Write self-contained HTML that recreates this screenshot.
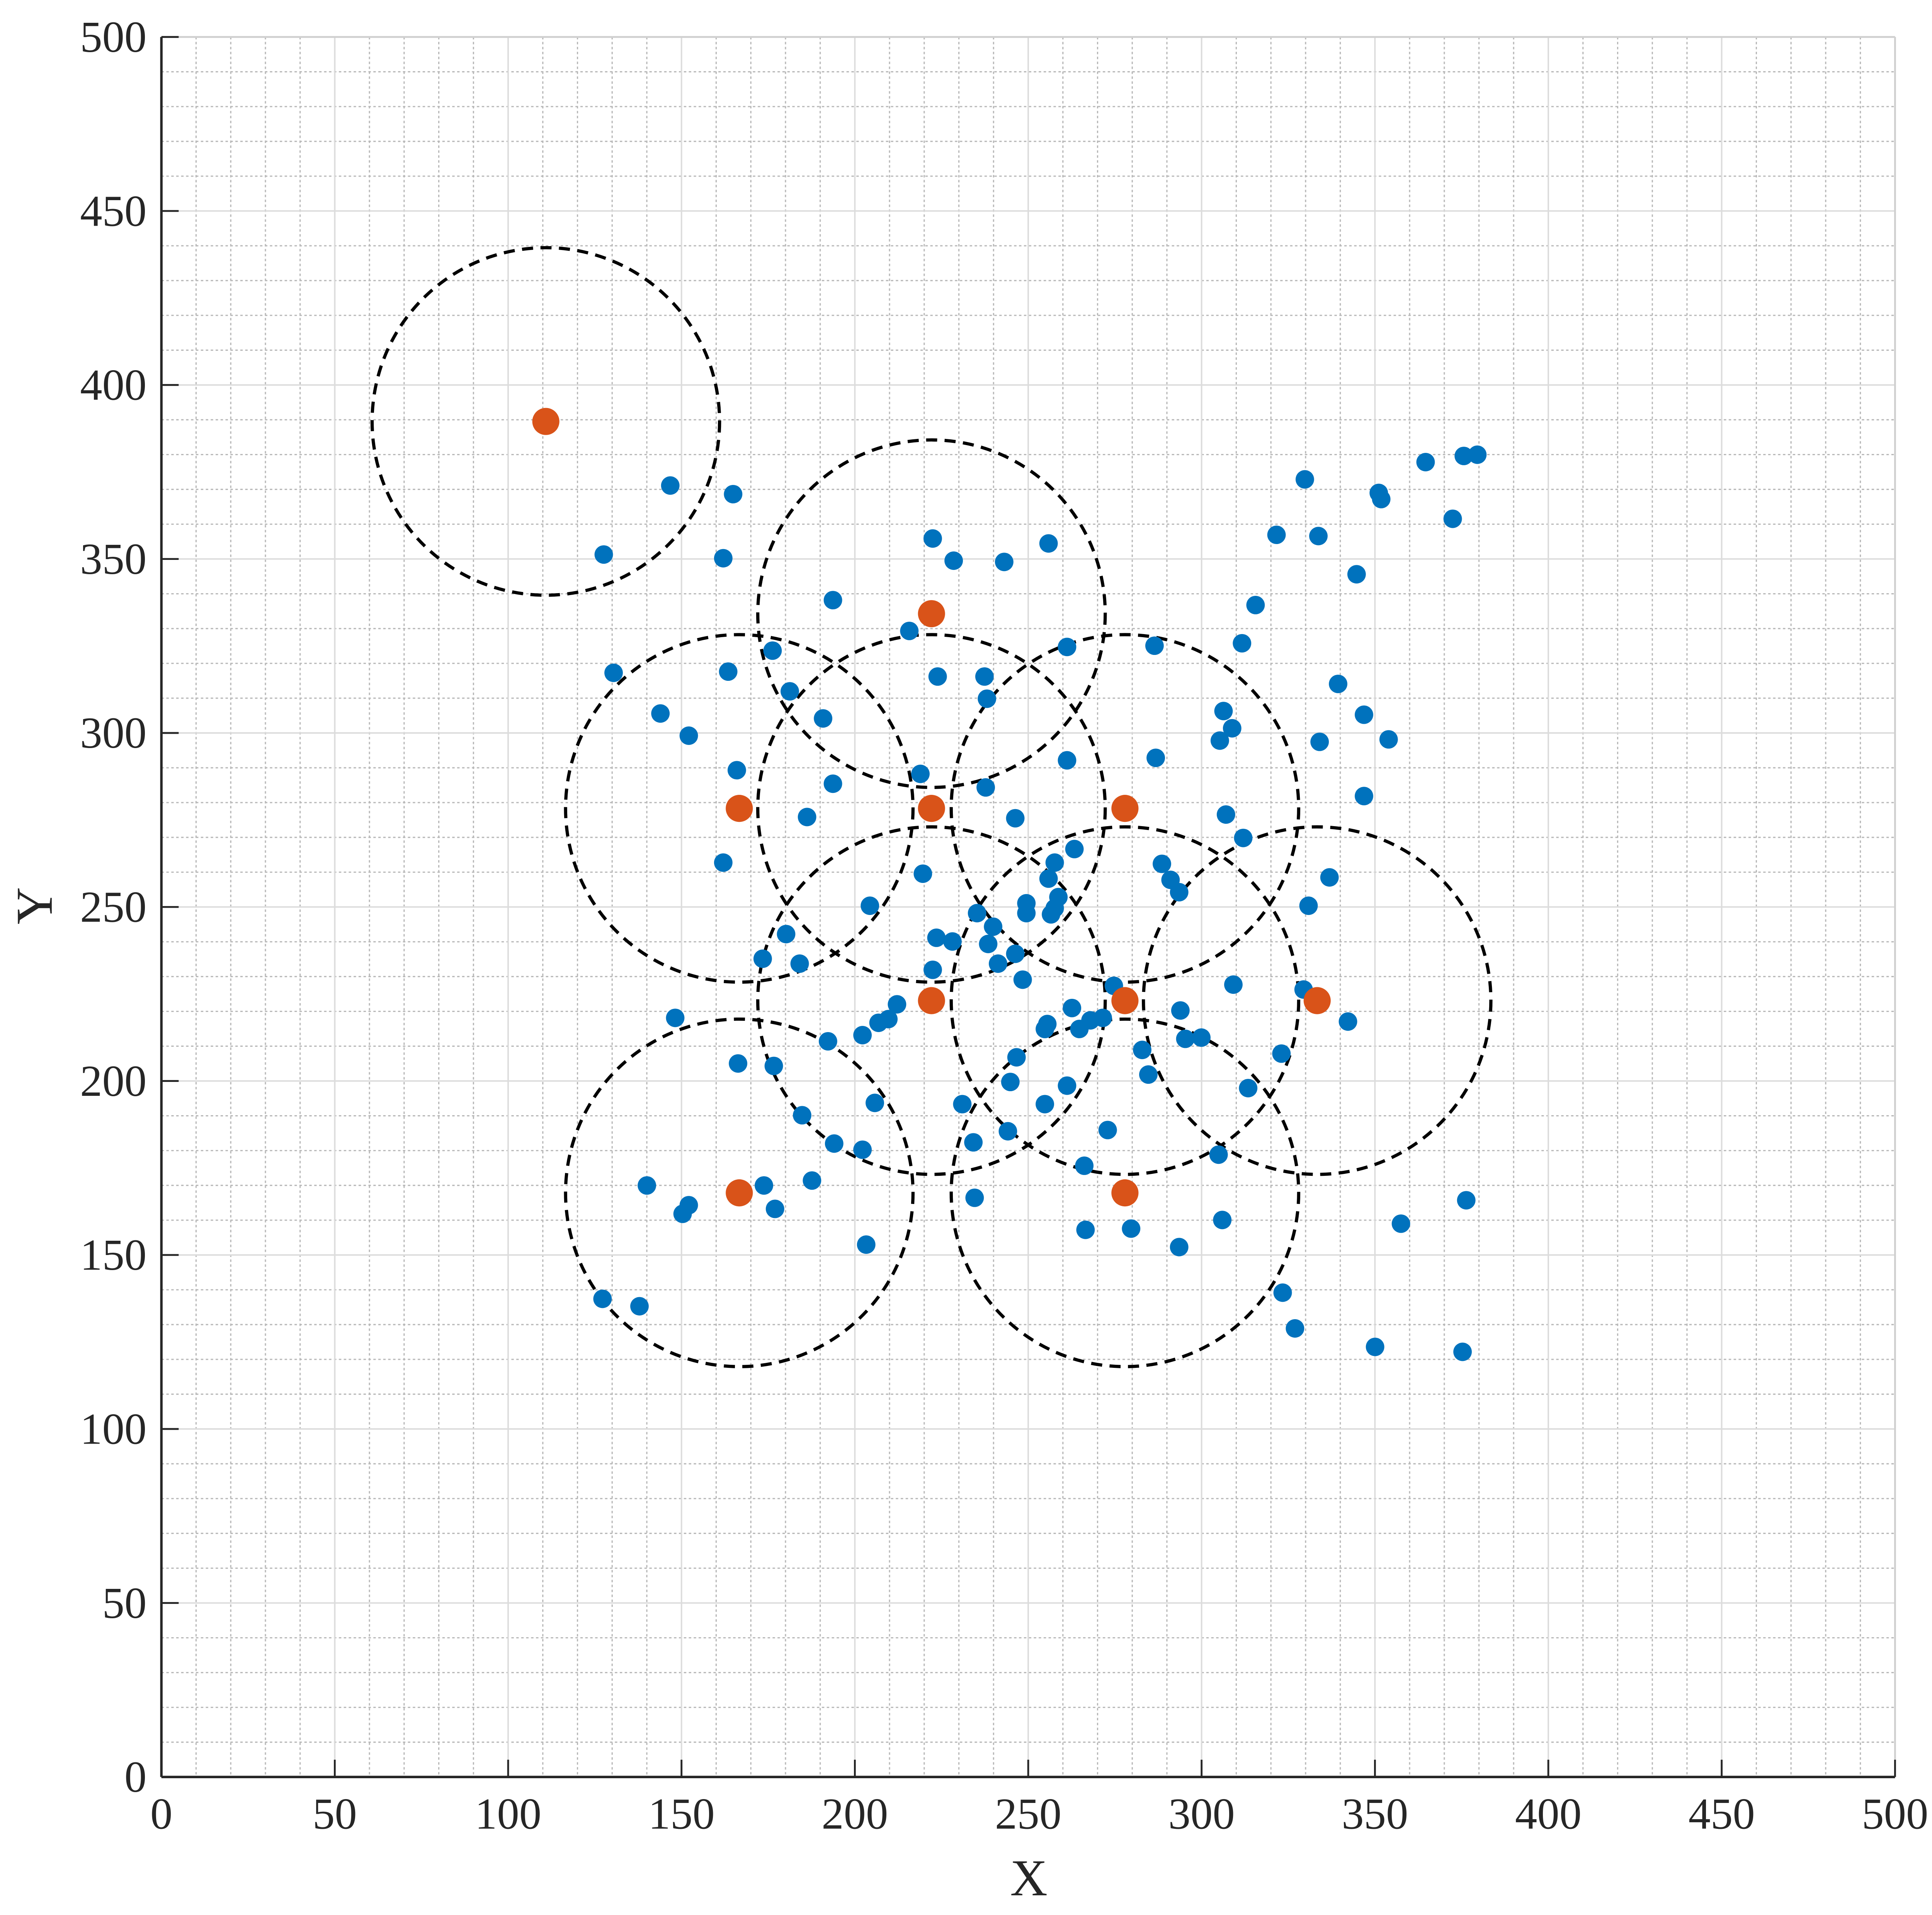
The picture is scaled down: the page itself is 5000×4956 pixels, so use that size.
<!DOCTYPE html>
<html><head><meta charset="utf-8"><style>
html,body{margin:0;padding:0;background:#fff;}
svg{display:block;}
</style></head><body>
<svg width="5000" height="4956" viewBox="0 0 1568 1554" preserveAspectRatio="none" xmlns="http://www.w3.org/2000/svg">
<rect width="1568" height="1554" fill="#fff"/>
<g id="grid"></g>
<g id="circ" fill="none" stroke="#000" stroke-width="2.6" stroke-dasharray="9,6"></g>
<g id="pts"></g>
<g id="axes"></g>
<text x="835" y="1538" font-family="Liberation Serif, serif" font-size="42" text-anchor="middle" fill="#262626">X</text>
<text transform="translate(42,735) rotate(-90)" font-family="Liberation Serif, serif" font-size="42" text-anchor="middle" fill="#262626">Y</text>
<script>
const L=131,R=1538,T=30,B=1442;
const X=v=>L+(R-L)*v/500, Y=v=>B-(B-T)*v/500;
const ns="http://www.w3.org/2000/svg";
function el(p,n,a,txt){const e=document.createElementNS(ns,n);for(const k in a)e.setAttribute(k,a[k]);if(txt!==undefined)e.textContent=txt;p.appendChild(e);return e;}
const g=document.getElementById('grid');
for(let v=10;v<500;v+=10){
 if(v%50){
  el(g,'line',{x1:X(v),x2:X(v),y1:T,y2:B,stroke:'#b8b8b8','stroke-width':1,'stroke-dasharray':'2,2'});
  el(g,'line',{x1:L,x2:R,y1:Y(v),y2:Y(v),stroke:'#b8b8b8','stroke-width':1,'stroke-dasharray':'2,2'});
 }
}
for(let v=50;v<500;v+=50){
 el(g,'line',{x1:X(v),x2:X(v),y1:T,y2:B,stroke:'#dcdcdc','stroke-width':1.2});
 el(g,'line',{x1:L,x2:R,y1:Y(v),y2:Y(v),stroke:'#dcdcdc','stroke-width':1.2});
}
const cs=[[443,342],[756,498],[600,656],[756,656],[913,656],[756,812],[913,812],[1069,812],[600,968],[913,968]];
const c=document.getElementById('circ');
cs.forEach(p=>el(c,'circle',{cx:p[0],cy:p[1],r:141}));
const blue=[[490,450],[544,394],[595,401],[587,453],[498,546],[536,579],[559,597],[591,545],[598,625],[627,528],[641,561],[668,583],[676,487],[676,636],[655,663],[587,700],[738,512],[757,437],[774,455],[815,456],[851,441],[761,549],[799,549],[801,567],[747,628],[800,639],[866,525],[866,617],[824,664],[749,709],[706,735],[638,758],[619,778],[649,782],[760,761],[773,764],[757,787],[793,741],[806,752],[802,766],[824,774],[810,782],[830,795],[856,700],[872,689],[851,713],[833,733],[833,741],[853,742],[859,728],[856,737],[548,826],[672,845],[700,840],[713,830],[721,827],[728,815],[599,863],[628,865],[651,905],[677,928],[700,933],[710,895],[781,896],[790,927],[818,918],[825,858],[820,878],[848,896],[866,881],[850,831],[848,835],[870,818],[876,835],[885,828],[895,826],[904,800],[899,917],[880,946],[937,524],[938,615],[943,701],[950,714],[957,724],[958,820],[927,852],[932,872],[962,843],[975,842],[990,601],[993,577],[1000,591],[1008,522],[1019,491],[1036,434],[1059,389],[1070,435],[1101,466],[1086,555],[1071,602],[1107,580],[1127,600],[1107,646],[1062,735],[1079,712],[1009,680],[995,661],[1001,799],[1058,803],[1094,829],[1040,855],[1013,883],[989,937],[992,990],[1041,1049],[1051,1078],[1116,1093],[1187,1097],[1137,993],[1190,974],[957,1012],[918,997],[881,998],[791,972],[703,1010],[659,958],[629,981],[620,962],[559,978],[554,985],[525,962],[489,1054],[519,1060],[1157,375],[1188,370],[1199,369],[1119,400],[1121,405],[1179,421]];
const pg=document.getElementById('pts');
blue.forEach(p=>el(pg,'circle',{cx:p[0],cy:p[1],r:7.5,fill:'#0072bd'}));
cs.forEach(p=>el(pg,'circle',{cx:p[0],cy:p[1],r:11,fill:'#d95319'}));
const a=document.getElementById('axes');
el(a,'line',{x1:L,x2:R,y1:T,y2:T,stroke:'#d0d0d0','stroke-width':1.5});
el(a,'line',{x1:R,x2:R,y1:T,y2:B,stroke:'#d0d0d0','stroke-width':1.5});
for(let v=0;v<=500;v+=50){
 el(a,'line',{x1:X(v),x2:X(v),y1:B,y2:B-14,stroke:'#262626','stroke-width':1.5});
 el(a,'line',{x1:L,x2:L+14,y1:Y(v),y2:Y(v),stroke:'#262626','stroke-width':1.5});
 el(a,'text',{x:X(v),y:B+42,'font-family':'Liberation Serif, serif','font-size':36,'text-anchor':'middle',fill:'#262626'},String(v));
 el(a,'text',{x:L-12,y:Y(v)+12,'font-family':'Liberation Serif, serif','font-size':36,'text-anchor':'end',fill:'#262626'},String(v));
}
el(a,'line',{x1:L,x2:R,y1:B,y2:B,stroke:'#262626','stroke-width':2});
el(a,'line',{x1:L,x2:L,y1:T,y2:B,stroke:'#262626','stroke-width':2});
</script>
</svg>
</body></html>
